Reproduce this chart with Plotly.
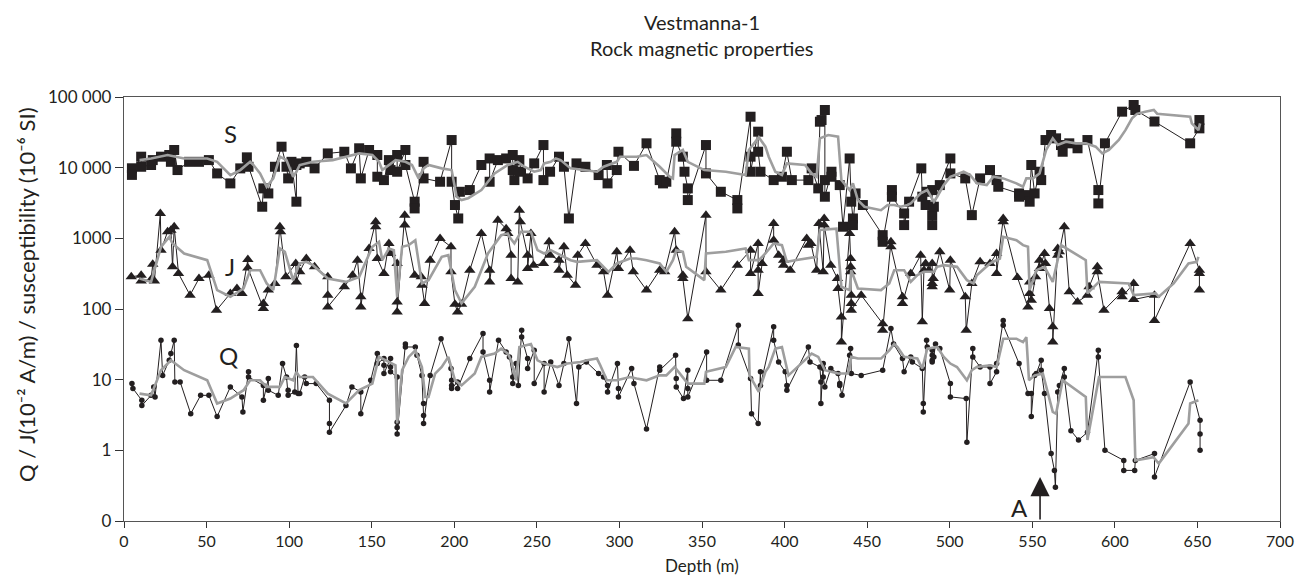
import math
import plotly.graph_objects as go

# ---------------- data (depth m, value) ----------------
S_points = [
    (4.8, 9800), (4.8, 7900), (10.4, 14300), (10.4, 10300), (16.4, 10900), (17.4, 12800), (22.4, 14300),
    (27.4, 15100), (28.4, 12100), (30.4, 17800), (32.4, 9250), (39.4, 12100), (45.4, 12100), (51.4, 12800),
    (56.4, 8290), (64.4, 5990), (70.4, 9770), (74.4, 14000), (75.4, 10300), (83.7, 2800), (84.4, 5090),
    (87.4, 4320), (91.4, 10300), (95.4, 19800), (98.4, 10300), (99.4, 7050), (101.4, 12100), (104.4, 3300),
    (104.4, 10900), (106.4, 11500), (110.4, 12100), (115.4, 9770), (123.4, 15900), (133.4, 16800),
    (137.4, 9770), (142.4, 18800), (143.4, 7050), (148.4, 17800), (153.4, 15100), (153.4, 7440),
    (157.4, 6670), (160.4, 12800), (161.4, 9250), (165.4, 15100), (165.4, 8760), (170.4, 17800),
    (170.4, 10900), (176, 3300), (176, 2650), (181.4, 12100), (181.4, 7050), (191.4, 6320), (198.4, 24600),
    (198.4, 6320), (200.4, 2960), (202.4, 1910), (203.4, 4560), (209.4, 4820), (216.4, 10900),
    (221.4, 13500), (221.4, 6320), (226.4, 12800), (231.4, 13500), (235.4, 15100), (235.4, 9250),
    (236.4, 6670), (239.4, 12800), (240.4, 8760), (244.4, 7050), (248.4, 11500), (254, 20900), (254, 6670),
    (258, 8760), (263.4, 14300), (266.4, 10300), (269.4, 1910), (274, 11500), (279.4, 10300), (287.4, 7860),
    (292.4, 10900), (292.8, 5990), (298.4, 9250), (299.4, 16800), (308.8, 10600), (316.4, 22100),
    (324.4, 6670), (326.4, 5990), (328.4, 6320), (334.4, 30600), (334.4, 23300), (338.4, 14300),
    (339.4, 8760), (341.4, 5090), (341.4, 3480), (352.4, 20900), (352.4, 8290), (361.4, 4560),
    (371.4, 3480), (371.4, 2650), (379.4, 52600), (379.4, 14300), (379.4, 8760), (384, 32300), (384, 16800),
    (385.4, 8760), (393.4, 6670), (398.4, 7440), (401.4, 16800), (404.4, 6670), (414.4, 6670),
    (416.4, 9770), (420.4, 5090), (421.4, 44700), (422.4, 47200), (424.4, 65500), (424.4, 6670),
    (424.4, 3880), (428.4, 8760), (428.4, 7440), (433.4, 5670), (435.4, 1460), (439.4, 13500),
    (440.4, 3300), (441.4, 1910), (441.4, 1540), (443, 4320), (447.4, 2960), (459.4, 1110), (459.4, 893),
    (465, 4820), (465, 3880), (472.4, 2250), (472.4, 1540), (475.4, 3300), (482.8, 9770), (483.4, 3880),
    (485.4, 2960), (486, 4560), (489.4, 4820), (489.4, 2130), (489.4, 1540), (490.4, 2800), (494, 5670),
    (500.4, 13500), (500.4, 8290), (509.4, 7050), (513.4, 2130), (518.4, 7050), (524.4, 9250),
    (528.4, 6670), (529.4, 5370), (542, 4320), (542, 3880), (547.4, 4090), (548.4, 3300), (549.4, 10900),
    (551.4, 4320), (554.4, 8760), (555.4, 6670), (558, 24600), (561.4, 29000), (564.4, 26000),
    (567.4, 20900), (568.4, 16800), (572.4, 22100), (577.4, 18800), (583.4, 24600), (590, 4820),
    (590, 3120), (594, 22100), (604.4, 62000), (611.4, 77000), (612.4, 65500), (624, 45000),
    (645.6, 22100), (651.2, 36000), (651.2, 47200),
]

J_points = [
    (4.4, 285), (10.4, 301), (10.4, 249), (16.4, 262), (17.4, 430), (18.4, 250), (22, 2250), (22.4, 680),
    (26.4, 1240), (28.4, 1300), (29.4, 395), (30.4, 1460), (33, 318), (40, 157), (45.4, 270), (51.4, 301),
    (56, 96), (64.4, 166), (68.4, 195), (71.4, 166), (75, 500), (75, 380), (84.4, 102), (84.4, 120),
    (87.4, 185), (91.4, 230), (94.4, 1460), (94.8, 1240), (98, 285), (104, 441), (104.4, 242), (106.4, 336),
    (110.4, 518), (115.4, 395), (123.4, 285), (123.4, 157), (123.4, 107), (133.4, 206), (138.4, 301),
    (141.4, 491), (143.4, 149), (143.4, 107), (148.4, 718), (152.4, 1710), (152.4, 1460), (153.4, 518),
    (157.4, 318), (160.4, 846), (161.4, 610), (165.4, 441), (165.4, 126), (165.4, 91), (170, 2130),
    (170, 1540), (176, 301), (180, 285), (180.4, 217), (182, 120), (185.4, 491), (191.4, 996), (198, 759),
    (198, 336), (200.4, 117), (202, 91), (204.4, 117), (209.4, 354), (216.4, 1170), (221.4, 354),
    (221.4, 242), (226.4, 1800), (231.4, 1370), (232.4, 1170), (234.4, 578), (234.4, 270), (238.4, 242),
    (239.4, 2500), (240, 1710), (244.4, 578), (244.4, 374), (246.4, 1170), (248, 417), (254, 441),
    (257.4, 893), (258, 578), (263.4, 491), (263.4, 354), (266.4, 759), (268.4, 301), (273.4, 217),
    (274.8, 578), (279.4, 846), (286.4, 417), (290.4, 336), (292.8, 157), (298.4, 645), (299.4, 374),
    (306.4, 680), (308.4, 336), (316.4, 185), (324.4, 354), (327.4, 336), (333.4, 1240), (334.4, 680),
    (338.4, 301), (338.4, 270), (341.4, 73), (352.4, 2130), (352.4, 336), (361.4, 185), (371.4, 417),
    (379.4, 680), (379.4, 318), (384, 846), (384, 354), (384, 166), (386.4, 441), (393.4, 1620),
    (393.4, 939), (396.4, 578), (399.4, 491), (399.4, 417), (403.4, 354), (413.4, 996), (414.4, 801),
    (416, 846), (419.4, 354), (420.8, 1620), (423.4, 336), (424, 1910), (424, 1540), (428, 417), (432, 270),
    (432.4, 195), (434.4, 77), (434.4, 34), (439.4, 1170), (440, 518), (440, 395), (440, 336), (440.4, 157),
    (440.4, 120), (440.4, 96), (446.4, 157), (459.4, 62), (459.4, 50), (464.4, 893), (464.4, 759),
    (471.4, 149), (471.4, 120), (476.4, 318), (482.4, 578), (483.4, 66), (484.4, 354), (485.4, 441),
    (487.4, 354), (489.4, 441), (489.4, 230), (489.4, 206), (490, 270), (494, 645), (500, 185), (500.4, 491),
    (509.4, 149), (510, 50), (513.4, 230), (518.4, 465), (524.4, 441), (528.4, 610), (528.4, 318),
    (532.4, 1910), (532.4, 1710), (541, 280), (547.4, 107), (548.4, 242), (548.4, 166), (549.4, 133),
    (552, 285), (554.4, 491), (554.4, 374), (557.4, 610), (558, 441), (560.4, 102), (562.4, 56),
    (562.4, 34), (565.4, 718), (565.4, 578), (566.4, 645), (569.4, 1460), (572.4, 175), (577.4, 126),
    (583.4, 157), (584.4, 206), (589.4, 395), (589.4, 336), (593.4, 96), (604.4, 175), (604.4, 149),
    (611.4, 230), (611.4, 136), (624, 157), (624, 69), (645.6, 846), (651.2, 354), (651.2, 318),
    (651.2, 185),
]

Q_points = [
    (4.8, 8.8), (5.4, 7.5), (10.8, 5.1), (10.8, 4.3), (16.4, 6.0), (18, 7.9), (18.8, 5.7), (22.4, 36),
    (23.4, 11.5), (27.4, 18.8), (28.4, 23.4), (30.4, 36), (30.8, 9.3), (34, 9.3), (40.4, 3.3), (46.4, 6.0),
    (51.4, 6.0), (56.4, 3.0), (64.4, 7.9), (71.4, 5.7), (72, 3.5), (75.4, 12.9), (75.4, 10.9), (84.4, 8.3),
    (84.4, 5.1), (87.4, 10.4), (87.4, 7.1), (93.4, 6.0), (96, 16.9), (98.4, 10.9), (99.4, 7.1), (99.4, 6.0),
    (103.4, 6.7), (104.4, 30.5), (105.4, 6.35), (106.4, 6.35), (109.4, 10.9), (110.4, 8.8), (116.4, 8.8),
    (124.4, 5.1), (124.4, 2.4), (124.4, 1.8), (134.4, 4.3), (138, 7.9), (143.4, 6.7), (143.4, 3.3),
    (149.4, 9.8), (153.4, 23.4), (153.4, 16.9), (157.4, 19.9), (157.4, 16), (157.4, 12.2), (161.4, 19.9),
    (161.4, 15.1), (161.4, 12.9), (165.4, 10.9), (165.4, 2.5), (165.4, 2.1), (165.4, 1.7), (170.4, 32),
    (170.4, 29), (176.4, 29), (177.4, 22.2), (180.4, 11.5), (181.4, 4.6), (181.4, 3.1), (181.4, 2.4),
    (185.4, 11.5), (192, 38), (198, 14.4), (198.4, 9.8), (198.4, 8.3), (198.4, 7.5), (202, 9.3), (202, 7.5),
    (209.4, 19.9), (217.4, 45), (217.4, 24.7), (221.4, 9.8), (221.4, 6.7), (226.8, 36), (231.4, 24.7),
    (233.4, 21), (235.4, 10.9), (235.4, 8.8), (237.4, 16.9), (238.8, 8.3), (240.8, 50), (240.8, 40),
    (244.4, 19.9), (244.4, 14.4), (248.4, 26), (248.4, 8.8), (254.4, 16.9), (254.4, 6.7), (258.4, 17.8),
    (263.4, 8.3), (266.4, 16.9), (269.4, 38), (274, 4.6), (275.4, 15.1), (280, 17.8), (287.4, 12.2),
    (290.4, 10.9), (292.8, 8.3), (292.8, 6.7), (298.8, 16.9), (299.4, 7.5), (299.4, 5.7), (307.4, 14.4),
    (308.8, 8.8), (316.4, 2.0), (324.4, 15.1), (324.4, 13.6), (334, 22.2), (334.4, 10.4), (334.4, 7.9),
    (338.8, 5.4), (341.4, 13.6), (341.4, 7.5), (341.4, 5.7), (352.8, 24.7), (352.8, 9.8), (361.4, 9.8),
    (372, 59), (372, 31), (379.4, 10.4), (380, 3.3), (384, 2.4), (385.4, 12.9), (385.4, 8.3), (393.4, 56),
    (393.4, 36), (396.4, 17.8), (400.4, 12.9), (401.4, 8.3), (401.4, 7.1), (414.4, 29), (415.4, 17.8),
    (421.4, 15.1), (422, 9.3), (422, 4.6), (423.4, 16.9), (423.4, 14.4), (423.4, 10.9), (424.4, 7.9),
    (428, 14.4), (432.4, 12.2), (433.4, 8.8), (433.4, 8.3), (434.8, 6.0), (439.4, 22.2), (440, 27.5),
    (440.4, 12.2), (446.4, 11.5), (459.4, 13.6), (464.4, 53), (466, 32), (471.4, 19.9), (472.4, 12.9),
    (476.4, 21), (477.4, 17.8), (483.4, 14.4), (484, 4.6), (484, 3.5), (486, 36), (486.4, 29), (489.4, 26),
    (489.4, 22.2), (489.4, 18.8), (489.4, 17.8), (490.4, 21), (491.4, 32), (494, 27.5), (500.4, 8.8),
    (500.4, 5.7), (510, 5.4), (510.4, 1.3), (514, 27.5), (514, 21), (518.4, 15.1), (524.4, 15.1),
    (524.4, 8.8), (528.4, 12.9), (528.4, 16.9), (532.4, 69), (532.4, 59), (542, 16.9), (547.4, 6.35),
    (549.4, 6.35), (549.4, 3.0), (551.4, 11.5), (552.4, 12.2), (555.4, 18.8), (555.4, 13.6), (557.4, 6.35),
    (561.4, 0.9), (563.4, 0.52), (564, 0.30), (565.4, 6.7), (566.4, 8.3), (569.4, 14.4), (569.4, 10.9),
    (573.4, 1.9), (578, 1.4), (583.4, 1.8), (590, 26), (590, 21), (594, 1.0), (605.4, 0.72), (605.4, 0.52),
    (612, 0.52), (612.4, 0.72), (624, 0.9), (624, 0.42), (645.6, 9.3), (651.6, 2.66), (651.6, 1.7),
    (651.6, 1.0),
]

# grey running curves
S_avg = [
    (9.4, 12800), (16.4, 13500), (26.4, 15100), (36.4, 13500), (50.4, 13500), (56.4, 12100), (64.4, 7860),
    (70.4, 9250), (76.4, 12100), (78.4, 10900), (82.4, 8290), (86.4, 5370), (90.4, 7050), (94.4, 14300),
    (98.4, 12800), (102.4, 7440), (104.4, 8760), (106.4, 10900), (114.4, 12100), (126.4, 12800),
    (134.4, 14300), (142.4, 15900), (150.4, 15100), (154.4, 12100), (156.4, 9250), (160.4, 10900),
    (164.4, 12800), (170.4, 12100), (174.4, 10900), (178.4, 7050), (181.4, 9770), (184.4, 10900),
    (192.4, 9770), (198.4, 9250), (201.4, 3880), (204.4, 3480), (208.4, 3700), (216.4, 4820),
    (224.4, 8290), (232.4, 10900), (238.4, 12100), (242.4, 10300), (248.4, 8760), (252.4, 9250),
    (254.4, 11500), (258.4, 12100), (261.4, 13500), (264.4, 12800), (268.4, 10900), (270.4, 9770),
    (278.4, 9250), (286.4, 8760), (290.4, 10300), (298.4, 12100), (300.4, 14300), (310.4, 14300),
    (316.4, 15100), (324.4, 10300), (330.4, 7440), (332.4, 7050), (333.4, 15100), (338.4, 17800),
    (341.4, 12100), (351.4, 9250), (364.4, 8760), (376.4, 7860), (378.4, 17800), (384.4, 27000),
    (388.4, 19800), (390.4, 14300), (394.4, 8760), (398.4, 7860), (401.4, 11500), (412.4, 10900),
    (416.4, 8290), (419.4, 7440), (421.4, 26000), (426.4, 29000), (432.4, 27500), (434.4, 6670),
    (439.4, 4820), (441.4, 5990), (444.4, 3480), (448.4, 2800), (458.4, 2500), (462.4, 2960),
    (466.4, 2960), (470.4, 2800), (474.4, 2960), (476.4, 3120), (482.4, 4320), (486.4, 4820),
    (490.4, 3300), (492.4, 3880), (496.4, 5670), (500.4, 7440), (508.4, 8760), (512.4, 7860),
    (516.4, 5990), (522.4, 5670), (526.4, 7440), (532.4, 7050), (540.4, 5990), (544.4, 5370),
    (546.4, 7050), (550.4, 7050), (554.4, 8290), (558.4, 17800), (562.4, 26000), (565.4, 20900),
    (570.4, 23300), (576.4, 22100), (582.4, 22100), (588.4, 19800), (592.4, 15900), (596.4, 17800),
    (602.4, 24600), (606.4, 34000), (610.4, 50000), (613.4, 57800), (618.4, 62000), (623.6, 65500),
    (625.6, 58000), (645.6, 52600), (646.6, 42400), (650.6, 34000), (651.6, 42400),
]

J_avg = [
    (9.4, 270), (16.4, 242), (22.4, 759), (27.4, 1050), (29.4, 846), (36.4, 610), (50.4, 491), (56.4, 185),
    (64.4, 149), (72.4, 195), (76.4, 354), (82.4, 354), (86.4, 230), (90.4, 185), (94.4, 718), (97.4, 645),
    (102.4, 256), (106.4, 441), (110.4, 465), (114.4, 417), (123.4, 270), (134.4, 242), (142.4, 285),
    (150.4, 759), (154.4, 893), (156.4, 491), (160.4, 718), (163.4, 680), (165.4, 149), (168.4, 759),
    (172.4, 801), (176.4, 939), (180.4, 230), (184.4, 256), (192.4, 548), (196.4, 578), (200.4, 185),
    (204.4, 120), (212.4, 206), (220.4, 610), (228.4, 1110), (232.4, 1170), (233.4, 1050), (236.4, 846),
    (240.4, 1240), (246.4, 1240), (250.4, 680), (254.4, 610), (258.4, 680), (262.4, 610), (270.4, 491),
    (274.4, 465), (286.4, 491), (290.4, 395), (293.4, 336), (298.4, 441), (306.4, 518), (310.4, 518),
    (316.4, 491), (324.4, 441), (328.4, 336), (332.4, 491), (334.4, 680), (338.4, 645), (340.4, 395),
    (351.4, 256), (352.4, 610), (364.4, 645), (371.4, 680), (376.4, 718), (378.4, 491), (384.4, 491),
    (388.4, 610), (393.4, 846), (398.4, 801), (401.4, 465), (406.4, 491), (414.4, 518), (419.4, 548),
    (421.4, 1310), (431.4, 1370), (434.4, 206), (439.4, 185), (440.4, 354), (444.4, 195), (458.4, 185),
    (463.4, 230), (466.4, 354), (472.4, 354), (476.4, 242), (480.4, 301), (484.4, 336), (490.4, 336),
    (492.4, 395), (496.4, 417), (504.4, 395), (510.4, 256), (514.4, 230), (516.4, 301), (524.4, 441),
    (530.4, 518), (532.4, 1050), (540.4, 939), (544.4, 801), (547.4, 759), (548.4, 185), (552.4, 354),
    (557.4, 395), (562.4, 242), (567.4, 801), (582.4, 491), (583.4, 166), (590.4, 242), (608.4, 230),
    (611.4, 157), (624.6, 166), (626.6, 149), (635.6, 230), (644.6, 441), (649.6, 465), (650.6, 548),
]

Q_avg = [
    (9.4, 6.35), (16.4, 6.0), (22.4, 13.6), (28.4, 18.8), (36.4, 13.6), (50.4, 9.8), (56.4, 4.6),
    (64.4, 5.4), (72.4, 7.1), (76.4, 9.8), (82.4, 9.8), (86.4, 7.9), (94.4, 7.9), (97.4, 10.9),
    (102.4, 9.8), (104.4, 12.9), (106.4, 10.9), (114.4, 10.9), (123.4, 6.35), (134.4, 4.6), (142.4, 7.1),
    (150.4, 8.8), (154.4, 21), (160.4, 17.8), (164.4, 16), (165.4, 2.4), (168.4, 13.6), (172.4, 21),
    (176.4, 26), (180.4, 15.1), (182.4, 5.7), (184.4, 5.7), (188.4, 12.2), (192.4, 15.1), (196.4, 21),
    (200.4, 9.8), (204.4, 8.3), (212.4, 12.2), (216.4, 21), (224.4, 23.4), (228.4, 27.5), (232.4, 23.4),
    (234.4, 18.8), (237.4, 9.8), (239.4, 29), (246.4, 32), (250.4, 18.8), (254.4, 16.9), (258.4, 16),
    (262.4, 15.1), (268.4, 16.9), (276.4, 17.8), (280.4, 18.8), (286.4, 19.9), (288.4, 16), (292.4, 9.8),
    (298.4, 9.8), (306.4, 10.9), (310.4, 10.4), (316.4, 9.8), (324.4, 11.5), (328.4, 11.5), (333.4, 15.1),
    (338.4, 10.9), (341.4, 8.8), (351.4, 8.8), (352.4, 12.9), (364.4, 15.1), (370.4, 29), (378.4, 27.5),
    (378.8, 11.5), (384.4, 6.7), (388.4, 12.9), (390.4, 15.1), (394.4, 27.5), (398.4, 29), (402.4, 11.5),
    (414.4, 21), (416.4, 23.4), (420.4, 21), (424.4, 13.6), (432.4, 12.2), (438.4, 12.2), (440.4, 21),
    (444.4, 19.9), (458.4, 19.9), (463.4, 26), (466.4, 32), (468.4, 29), (472.4, 21), (480.4, 19.9),
    (483.4, 14.4), (486.4, 27.5), (492.4, 29), (496.4, 21), (500.4, 16.9), (504.4, 15.1), (510.4, 9.8),
    (513.4, 13.6), (516.4, 15.1), (524.4, 16), (528.4, 15.1), (532.4, 38), (540.4, 38), (544.4, 34),
    (546.4, 40), (548, 9.8), (551.4, 11.5), (556.4, 12.2), (562.4, 3.5), (564.4, 3.3), (568.4, 9.8),
    (582.4, 5.7), (583.4, 1.4), (590.4, 10.9), (606.4, 10.9), (611.4, 5.1), (612.4, 0.72), (623.4, 0.8),
    (626.6, 0.65), (635.6, 1.25), (644.6, 2.4), (645.6, 4.6), (650.6, 5.1),
]

y_tickvals = [0.1, 1, 10, 100, 1000, 10000, 100000]
y_ticktext = ["0", "1", "10", "100", "1000", "10 000", "100 000"]
x_tickvals = list(range(0, 701, 50))

series_labels = [("S", 64.4, 30500), ("J", 64.4, 400), ("Q", 63.4, 22)]
event_label = ("A", 542.0, 0.156)
event_arrow = (554.7, 0.42)

# ---------------- figure ----------------
BLACK = "#231f20"
GREY = "#9e9e9e"
FONT = "Lato, 'Open Sans', sans-serif"


def unzip(points):
    return [p[0] for p in points], [p[1] for p in points]


fig = go.Figure()
for pts, sym, size in [(S_points, "square", 10), (J_points, "triangle-up", 10), (Q_points, "circle", 5.5)]:
    x, y = unzip(pts)
    fig.add_trace(go.Scatter(
        x=x, y=y, mode="lines+markers",
        line=dict(color=BLACK, width=1),
        marker=dict(symbol=sym, size=size, color=BLACK, line=dict(width=0)),
        showlegend=False, hoverinfo="x+y"))

for pts in [S_avg, J_avg, Q_avg]:
    x, y = unzip(pts)
    fig.add_trace(go.Scatter(
        x=x, y=y, mode="lines", line=dict(color=GREY, width=2.6),
        showlegend=False, hoverinfo="skip"))

annotations = []
for txt, d, v in series_labels:
    annotations.append(dict(x=d, y=math.log10(v), xref="x", yref="y", text=txt, showarrow=False,
                            font=dict(family=FONT, size=24, color=BLACK)))
annotations.append(dict(x=event_label[1], y=math.log10(event_label[2]), xref="x", yref="y",
                        text=event_label[0], showarrow=False,
                        font=dict(family=FONT, size=24, color=BLACK)))
annotations.append(dict(x=event_arrow[0], y=math.log10(event_arrow[1]), xref="x", yref="y",
                        ax=event_arrow[0], ay=-1, axref="x", ayref="y", text="",
                        showarrow=True, arrowhead=2, arrowsize=2.4, arrowwidth=1.6, arrowcolor=BLACK))
# titles
annotations.append(dict(x=0.5, y=1.177, xref="paper", yref="paper", text="Vestmanna-1", showarrow=False,
                        font=dict(family=FONT, size=20, color=BLACK), yanchor="middle"))
annotations.append(dict(x=0.5, y=1.1156, xref="paper", yref="paper", text="Rock magnetic properties",
                        showarrow=False, font=dict(family=FONT, size=20, color=BLACK), yanchor="middle"))
annotations.append(dict(x=0.5, y=-0.104, xref="paper", yref="paper", text="Depth (m)", showarrow=False,
                        font=dict(family=FONT, size=17, color=BLACK), yanchor="middle"))
annotations.append(dict(x=-0.0849, y=0.535, xref="paper", yref="paper",
                        text="Q / J(10⁻² A/m) / susceptibility (10⁻⁶ SI)", textangle=-90,
                        showarrow=False, font=dict(family=FONT, size=22, color=BLACK),
                        xanchor="center", yanchor="middle"))

# the page body adds an 8 px offset, so the figure is 8 px smaller and margins shifted
fig.update_layout(
    width=1298, height=571,
    margin=dict(l=116, r=16, t=89, b=58),
    paper_bgcolor="white", plot_bgcolor="white",
    font=dict(family=FONT, size=16, color=BLACK),
    annotations=annotations,
    xaxis=dict(range=[0, 700], tickvals=x_tickvals, ticks="outside", ticklen=6, tickcolor="#333",
               showline=True, linecolor="#555", linewidth=1.3, mirror=True, showgrid=False,
               zeroline=False, tickfont=dict(size=16)),
    yaxis=dict(type="log", range=[-1, 5], tickvals=y_tickvals, ticktext=y_ticktext, ticks="outside",
               ticklen=8, tickcolor="#333", showline=True, linecolor="#555", linewidth=1.3, mirror=True,
               showgrid=False, zeroline=False, tickfont=dict(size=17)),
)

fig.write_html("out.html")
